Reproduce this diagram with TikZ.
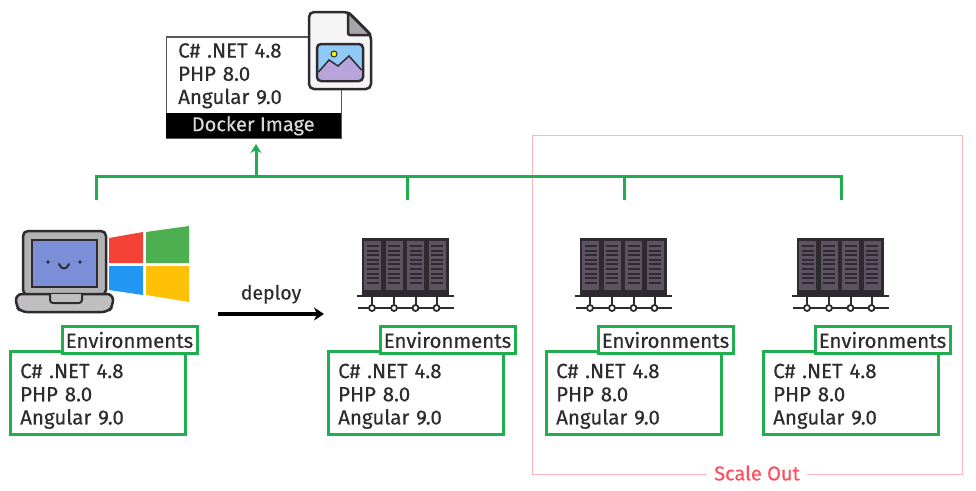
\documentclass[tikz,border=0pt]{standalone}
\usepackage{fontspec}
\setmainfont[UprightFeatures={FakeBold=0.3}]{Fira Sans}
\usetikzlibrary{arrows.meta}
\definecolor{envgreen}{HTML}{1FAF4F}
\definecolor{scalered}{HTML}{FF4D5E}
\definecolor{scaleline}{HTML}{FFB3BA}
\definecolor{inkdark}{HTML}{2E2A30}
\definecolor{rackbody}{HTML}{5E5362}
\definecolor{screenblue}{HTML}{7B8FD8}
\definecolor{photoblue}{HTML}{90CAF9}
\definecolor{photoviolet}{HTML}{B9A3DB}
\definecolor{winred}{HTML}{F44336}
\definecolor{wingreen}{HTML}{4CAF50}
\definecolor{winblue}{HTML}{2196F3}
\definecolor{winyellow}{HTML}{FFC107}
\tikzset{
    rackserver/.pic={
        \fill[inkdark] (0,0) rectangle (87,58);
        \foreach \c in {0,1,2,3} {
            \fill[rackbody] (2.5+21.5*\c,3) rectangle (19.5+21.5*\c,52);
            \foreach \s in {0,...,8}
                \draw[inkdark, line width=2pt] (5+21.5*\c,8+4.6*\s) -- (17+21.5*\c,8+4.6*\s);
        }
        \draw[inkdark, line width=2.5pt] (-5,58) -- (92,58);
        \draw[inkdark, line width=2.5pt] (-4,70) -- (92,70);
        \foreach \c in {10.5,32.5,54,75} {
            \draw[inkdark, line width=2pt] (\c,58) -- (\c,70);
            \draw[inkdark, line width=1.8pt, fill=white] (\c,70) circle (3);
        }
    }
}
\begin{document}
\begin{tikzpicture}[
    x=1pt, y=-1pt,
    stacktext/.style={font=\fontsize{20.5}{23.2}\selectfont, align=left, text width=150pt, inner sep=0pt, anchor=north west},
    envlist/.style={draw=envgreen, line width=3pt, minimum width=175pt, minimum height=83pt, anchor=north west},
    envtag/.style={draw=envgreen, line width=3pt, fill=white, minimum width=135pt, minimum height=27pt, inner sep=0pt, anchor=north west, font=\fontsize{20.5}{22}\selectfont, text=inkdark},
    bus/.style={draw=envgreen, line width=3pt},
]
    \useasboundingbox (0,0) rectangle (976,490);

    % Scale out frame
    \node[draw=scaleline, line width=1.2pt, minimum width=430pt, minimum height=339pt, anchor=north west] (scalebox) at (532,135) {};
    \node[fill=white, text=scalered, font=\fontsize{20}{22}\selectfont, inner xsep=7pt, inner ysep=1pt] (scalelabel) at (757,473) {Scale Out};

    % Docker image
    \node[draw=black!65, line width=1.5pt, fill=white, minimum width=175pt, minimum height=101pt, anchor=north west] (docker) at (165.5,36) {};
    \node[fill=black, minimum width=175pt, minimum height=25pt, anchor=south west, text=black!15, font=\fontsize{20}{22}\selectfont, inner sep=0pt] (dockerlabel) at (docker.south west) {Docker Image};
    \node[stacktext, text=inkdark] (dockertext) at (178,43) {C\# .NET 4.8\\PHP 8.0\\Angular 9.0};

    % File icon
    \draw[inkdark, line width=2.5pt, fill=black!4, rounded corners=5pt] (309,12) -- (348,12) -- (371,35) -- (371,89) -- (309,89) -- cycle;
    \draw[inkdark, line width=2.5pt, fill=black!35, rounded corners=2pt] (348,12) -- (371,35) -- (348,35) -- cycle;
    \draw[inkdark, line width=2.5pt, fill=photoblue, rounded corners=4pt] (317,44) rectangle (363,81);
    \fill[photoviolet, rounded corners=3pt] (318.5,72) -- (329,60) -- (338,66) -- (349,56) -- (361.5,70) -- (361.5,79.5) -- (318.5,79.5) -- cycle;
    \draw[inkdark, line width=1.5pt] (318.5,72) -- (329,60) -- (338,66) -- (349,56) -- (361.5,70);
    \draw[inkdark, line width=1pt, fill=yellow] (334,54) circle (3);

    % Laptop
    \draw[inkdark, line width=2.5pt, fill=black!30, rounded corners=5pt] (23,231) rectangle (106,295);
    \draw[inkdark, line width=2.5pt, fill=screenblue] (32,240) rectangle (97,287);
    \fill[inkdark] (48,262) circle (1.8) (80,262) circle (1.8);
    \draw[inkdark, line width=2pt, line cap=round] (59,264) .. controls (61,270) and (67,270) .. (69,264);
    \draw[inkdark, line width=2.5pt, fill=black!25, rounded corners=6pt] (16,294) -- (113,294) -- (113,306) -- (108,312) -- (21,312) -- (16,306) -- cycle;
    \draw[inkdark, line width=2pt, fill=black!25, rounded corners=3pt] (50,294) -- (50,303) -- (82,303) -- (82,294);

    % Windows logo
    \fill[winred] (109,238) -- (143,232) -- (143,263) -- (109,263) -- cycle;
    \fill[wingreen] (146,232) -- (189,226) -- (189,263) -- (146,263) -- cycle;
    \fill[winblue] (109,266) -- (143,266) -- (143,295) -- (109,290) -- cycle;
    \fill[winyellow] (146,266) -- (189,266) -- (189,302) -- (146,295) -- cycle;

    % Servers
    \foreach \name/\x in {two/361.5, three/579.5, four/796.5} {
        \pic (\name) at (\x,238) {rackserver};
    }

    % Environments
    \foreach \name/\x in {one/8.5, two/326.5, three/544.5, four/761.5} {
        \node[envlist] (list\name) at (\x,350) {};
        \node[stacktext, text=inkdark] (text\name) at (\x+11.5,363.5) {C\# .NET 4.8\\PHP 8.0\\Angular 9.0};
        \node[envtag, xshift=52pt] (tag\name) at (\x,325) {Environments};
    }

    % Bus
    \coordinate (busleft) at (96,176.5);
    \coordinate (busright) at (841,176.5);
    \coordinate (tap) at (256,176.5);
    \coordinate (tapend) at (256,144);
    \coordinate (dropone) at (96,200);
    \coordinate (jointwo) at (407,176.5);
    \coordinate (droptwo) at (407,200);
    \coordinate (jointhree) at (624,176.5);
    \coordinate (dropthree) at (624,200);
    \coordinate (dropfour) at (841,200);
    \draw[bus] (dropone) -- (busleft) -- (busright) -- (dropfour);
    \draw[bus] (jointwo) -- (droptwo);
    \draw[bus] (jointhree) -- (dropthree);
    \draw[bus, -{Stealth[length=9pt,width=11pt]}] (tap) -- (tapend);

    % Deploy
    \coordinate (deployfrom) at (218,314);
    \coordinate (deployto) at (324,314);
    \draw[black, line width=4pt, -{Stealth[length=10pt,width=13pt]}] (deployfrom) -- node[above=5pt, font=\fontsize{19.5}{22}\selectfont, text=inkdark] (deploylabel) {deploy} (deployto);
\end{tikzpicture}
\end{document}
